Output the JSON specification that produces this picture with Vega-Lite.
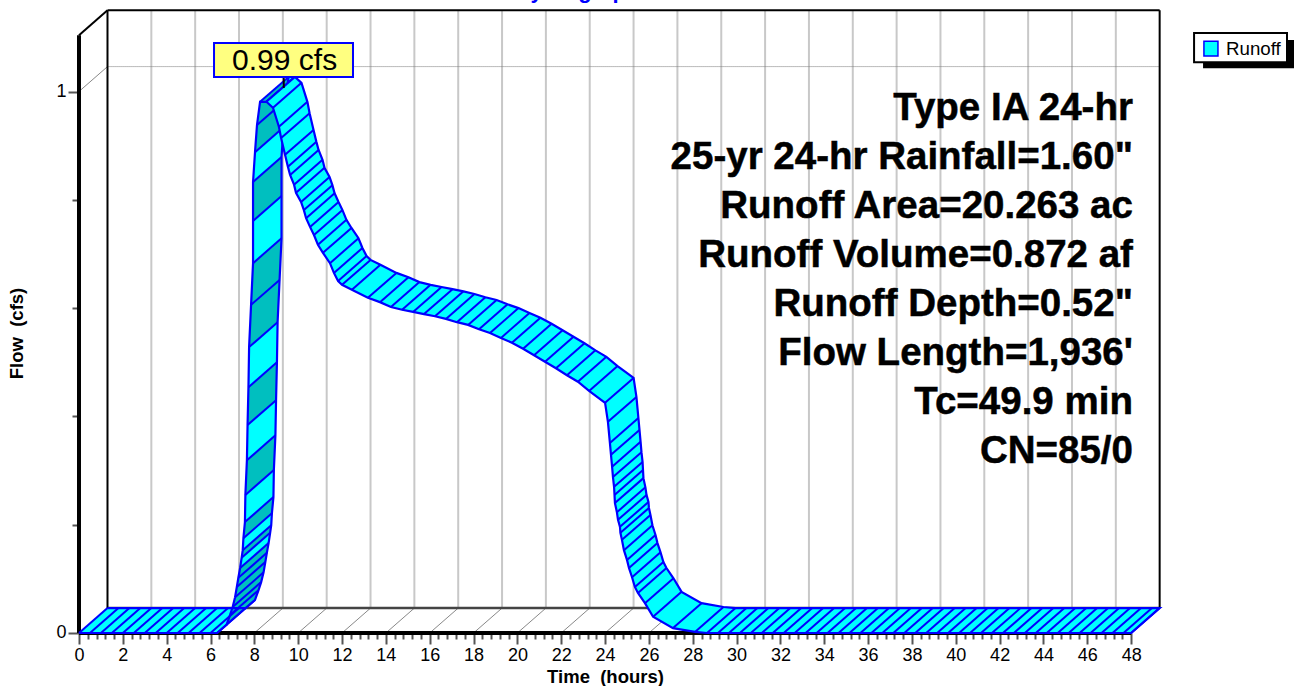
{"$schema":"https://vega.github.io/schema/vega-lite/v6.json","width":1294,"height":686,"autosize":"none","padding":0,"background":"white",
"config":{"view":{"stroke":null},"text":{"font":"Liberation Sans"},"axis":{"labelFont":"Liberation Sans","titleFont":"Liberation Sans"}},
"datasets":{
"backGrid":[{"hour":3.3,"flow":0.046,"hourEnd":3.3,"flowEnd":1.15},{"hour":5.3,"flow":0.046,"hourEnd":5.3,"flowEnd":1.15},{"hour":7.3,"flow":0.046,"hourEnd":7.3,"flowEnd":1.15},{"hour":9.3,"flow":0.046,"hourEnd":9.3,"flowEnd":1.15},{"hour":11.3,"flow":0.046,"hourEnd":11.3,"flowEnd":1.15},{"hour":13.3,"flow":0.046,"hourEnd":13.3,"flowEnd":1.15},{"hour":15.3,"flow":0.046,"hourEnd":15.3,"flowEnd":1.15},{"hour":17.3,"flow":0.046,"hourEnd":17.3,"flowEnd":1.15},{"hour":19.3,"flow":0.046,"hourEnd":19.3,"flowEnd":1.15},{"hour":21.3,"flow":0.046,"hourEnd":21.3,"flowEnd":1.15},{"hour":23.3,"flow":0.046,"hourEnd":23.3,"flowEnd":1.15},{"hour":25.3,"flow":0.046,"hourEnd":25.3,"flowEnd":1.15},{"hour":27.3,"flow":0.046,"hourEnd":27.3,"flowEnd":1.15},{"hour":29.3,"flow":0.046,"hourEnd":29.3,"flowEnd":1.15},{"hour":31.3,"flow":0.046,"hourEnd":31.3,"flowEnd":1.15},{"hour":33.3,"flow":0.046,"hourEnd":33.3,"flowEnd":1.15},{"hour":35.3,"flow":0.046,"hourEnd":35.3,"flowEnd":1.15},{"hour":37.3,"flow":0.046,"hourEnd":37.3,"flowEnd":1.15},{"hour":39.3,"flow":0.046,"hourEnd":39.3,"flowEnd":1.15},{"hour":41.3,"flow":0.046,"hourEnd":41.3,"flowEnd":1.15},{"hour":43.3,"flow":0.046,"hourEnd":43.3,"flowEnd":1.15},{"hour":45.3,"flow":0.046,"hourEnd":45.3,"flowEnd":1.15},{"hour":47.3,"flow":0.046,"hourEnd":47.3,"flowEnd":1.15}],
"depthLines":[{"hour":0,"flow":1,"hourEnd":1.3,"flowEnd":1.046},{"hour":2,"flow":0,"hourEnd":3.3,"flowEnd":0.046},{"hour":4,"flow":0,"hourEnd":5.3,"flowEnd":0.046},{"hour":6,"flow":0,"hourEnd":7.3,"flowEnd":0.046},{"hour":8,"flow":0,"hourEnd":9.3,"flowEnd":0.046},{"hour":10,"flow":0,"hourEnd":11.3,"flowEnd":0.046},{"hour":12,"flow":0,"hourEnd":13.3,"flowEnd":0.046},{"hour":14,"flow":0,"hourEnd":15.3,"flowEnd":0.046},{"hour":16,"flow":0,"hourEnd":17.3,"flowEnd":0.046},{"hour":18,"flow":0,"hourEnd":19.3,"flowEnd":0.046},{"hour":20,"flow":0,"hourEnd":21.3,"flowEnd":0.046},{"hour":22,"flow":0,"hourEnd":23.3,"flowEnd":0.046},{"hour":24,"flow":0,"hourEnd":25.3,"flowEnd":0.046},{"hour":26,"flow":0,"hourEnd":27.3,"flowEnd":0.046}],
"backOne":[{"hour":1.3,"flow":1.046,"hourEnd":49.3,"flowEnd":1.046}],
"floorBack":[{"hour":1.3,"flow":0.046,"hourEnd":49.3,"flowEnd":0.046}],
"frameThin":[{"hour":0,"flow":1.104,"hourEnd":1.3,"flowEnd":1.15},{"hour":1.3,"flow":0.046,"hourEnd":1.3,"flowEnd":1.15},{"hour":1.3,"flow":1.15,"hourEnd":49.3,"flowEnd":1.15},{"hour":49.3,"flow":0.046,"hourEnd":49.3,"flowEnd":1.15}],
"frameThick":[{"hour":0,"flow":0,"hourEnd":0,"flowEnd":1.104},{"hour":0,"flow":0,"hourEnd":48,"flowEnd":0}],
"rise":[{"station":1,"seq":1,"hour":0,"flow":0},{"station":2,"seq":2,"hour":0.5,"flow":0},{"station":3,"seq":3,"hour":1,"flow":0},{"station":4,"seq":4,"hour":1.5,"flow":0},{"station":5,"seq":5,"hour":2,"flow":0},{"station":6,"seq":6,"hour":2.5,"flow":0},{"station":7,"seq":7,"hour":3,"flow":0},{"station":8,"seq":8,"hour":3.5,"flow":0},{"station":9,"seq":9,"hour":4,"flow":0},{"station":10,"seq":10,"hour":4.5,"flow":0},{"station":11,"seq":11,"hour":5,"flow":0},{"station":12,"seq":12,"hour":5.5,"flow":0},{"station":13,"seq":13,"hour":6,"flow":0},{"station":14,"seq":14,"hour":6.3,"flow":0},{"station":15,"seq":15,"hour":6.73,"flow":0.015},{"station":16,"seq":16,"hour":6.89,"flow":0.033},{"station":17,"seq":17,"hour":7.01,"flow":0.048},{"station":18,"seq":18,"hour":7.12,"flow":0.066},{"station":19,"seq":19,"hour":7.2,"flow":0.085},{"station":20,"seq":20,"hour":7.27,"flow":0.102},{"station":21,"seq":21,"hour":7.35,"flow":0.12},{"station":22,"seq":22,"hour":7.42,"flow":0.139},{"station":23,"seq":23,"hour":7.47,"flow":0.153},{"station":24,"seq":24,"hour":7.5,"flow":0.175},{"station":25,"seq":25,"hour":7.57,"flow":0.205},{"station":26,"seq":26,"hour":7.59,"flow":0.255},{"station":27,"seq":27,"hour":7.66,"flow":0.319},{"station":28,"seq":28,"hour":7.69,"flow":0.384},{"station":29,"seq":29,"hour":7.73,"flow":0.454},{"station":30,"seq":30,"hour":7.76,"flow":0.528},{"station":31,"seq":31,"hour":7.85,"flow":0.606},{"station":32,"seq":32,"hour":7.94,"flow":0.683},{"station":33,"seq":33,"hour":7.94,"flow":0.761},{"station":34,"seq":34,"hour":7.94,"flow":0.833},{"station":35,"seq":35,"hour":8.03,"flow":0.888},{"station":36,"seq":36,"hour":8.12,"flow":0.938},{"station":37,"seq":37,"hour":8.26,"flow":0.981},{"station":38,"seq":38,"hour":8.55,"flow":0.981},
{"station":38,"seq":962,"hour":9.85,"flow":1.027},{"station":37,"seq":963,"hour":9.56,"flow":1.027},{"station":36,"seq":964,"hour":9.42,"flow":0.984},{"station":35,"seq":965,"hour":9.33,"flow":0.934},{"station":34,"seq":966,"hour":9.24,"flow":0.879},{"station":33,"seq":967,"hour":9.24,"flow":0.807},{"station":32,"seq":968,"hour":9.24,"flow":0.729},{"station":31,"seq":969,"hour":9.15,"flow":0.652},{"station":30,"seq":970,"hour":9.06,"flow":0.574},{"station":29,"seq":971,"hour":9.03,"flow":0.5},{"station":28,"seq":972,"hour":8.99,"flow":0.43},{"station":27,"seq":973,"hour":8.96,"flow":0.365},{"station":26,"seq":974,"hour":8.89,"flow":0.301},{"station":25,"seq":975,"hour":8.87,"flow":0.251},{"station":24,"seq":976,"hour":8.8,"flow":0.221},{"station":23,"seq":977,"hour":8.77,"flow":0.199},{"station":22,"seq":978,"hour":8.72,"flow":0.185},{"station":21,"seq":979,"hour":8.65,"flow":0.166},{"station":20,"seq":980,"hour":8.57,"flow":0.148},{"station":19,"seq":981,"hour":8.5,"flow":0.131},{"station":18,"seq":982,"hour":8.42,"flow":0.112},{"station":17,"seq":983,"hour":8.31,"flow":0.094},{"station":16,"seq":984,"hour":8.19,"flow":0.079},{"station":15,"seq":985,"hour":8.03,"flow":0.061},{"station":14,"seq":986,"hour":7.6,"flow":0.046},{"station":13,"seq":987,"hour":7.3,"flow":0.046},{"station":12,"seq":988,"hour":6.8,"flow":0.046},{"station":11,"seq":989,"hour":6.3,"flow":0.046},{"station":10,"seq":990,"hour":5.8,"flow":0.046},{"station":9,"seq":991,"hour":5.3,"flow":0.046},{"station":8,"seq":992,"hour":4.8,"flow":0.046},{"station":7,"seq":993,"hour":4.3,"flow":0.046},{"station":6,"seq":994,"hour":3.8,"flow":0.046},{"station":5,"seq":995,"hour":3.3,"flow":0.046},{"station":4,"seq":996,"hour":2.8,"flow":0.046},{"station":3,"seq":997,"hour":2.3,"flow":0.046},{"station":2,"seq":998,"hour":1.8,"flow":0.046},{"station":1,"seq":999,"hour":1.3,"flow":0.046}],
"shaded":[
{"quad":"A","seq":1,"hour":8.03,"flow":0.888},{"quad":"A","seq":2,"hour":8.12,"flow":0.938},{"quad":"A","seq":3,"hour":8.26,"flow":0.981},{"quad":"A","seq":4,"hour":9.56,"flow":1.027},{"quad":"A","seq":5,"hour":9.42,"flow":0.984},{"quad":"A","seq":6,"hour":9.33,"flow":0.934},
{"quad":"B","seq":1,"hour":7.94,"flow":0.761},{"quad":"B","seq":2,"hour":7.94,"flow":0.833},{"quad":"B","seq":3,"hour":9.24,"flow":0.879},{"quad":"B","seq":4,"hour":9.24,"flow":0.807},
{"quad":"C","seq":1,"hour":7.76,"flow":0.528},{"quad":"C","seq":2,"hour":7.85,"flow":0.606},{"quad":"C","seq":3,"hour":7.94,"flow":0.683},{"quad":"C","seq":4,"hour":9.24,"flow":0.729},{"quad":"C","seq":5,"hour":9.15,"flow":0.652},{"quad":"C","seq":6,"hour":9.06,"flow":0.574},
{"quad":"D","seq":1,"hour":7.69,"flow":0.384},{"quad":"D","seq":2,"hour":7.73,"flow":0.454},{"quad":"D","seq":3,"hour":9.03,"flow":0.5},{"quad":"D","seq":4,"hour":8.99,"flow":0.43},
{"quad":"E","seq":1,"hour":7.59,"flow":0.255},{"quad":"E","seq":2,"hour":7.66,"flow":0.319},{"quad":"E","seq":3,"hour":8.96,"flow":0.365},{"quad":"E","seq":4,"hour":8.89,"flow":0.301},
{"quad":"F","seq":1,"hour":7.5,"flow":0.175},{"quad":"F","seq":2,"hour":7.57,"flow":0.205},{"quad":"F","seq":3,"hour":8.87,"flow":0.251},{"quad":"F","seq":4,"hour":8.8,"flow":0.221},
{"quad":"G","seq":1,"hour":7.42,"flow":0.139},{"quad":"G","seq":2,"hour":7.47,"flow":0.153},{"quad":"G","seq":3,"hour":8.77,"flow":0.199},{"quad":"G","seq":4,"hour":8.72,"flow":0.185},
{"quad":"H","seq":1,"hour":6.3,"flow":0},{"quad":"H","seq":2,"hour":6.73,"flow":0.015},{"quad":"H","seq":3,"hour":6.89,"flow":0.033},{"quad":"H","seq":4,"hour":7.01,"flow":0.048},{"quad":"H","seq":5,"hour":7.12,"flow":0.066},{"quad":"H","seq":6,"hour":7.2,"flow":0.085},{"quad":"H","seq":7,"hour":7.27,"flow":0.102},{"quad":"H","seq":8,"hour":7.35,"flow":0.12},{"quad":"H","seq":9,"hour":8.65,"flow":0.166},{"quad":"H","seq":10,"hour":8.57,"flow":0.148},{"quad":"H","seq":11,"hour":8.5,"flow":0.131},{"quad":"H","seq":12,"hour":8.42,"flow":0.112},{"quad":"H","seq":13,"hour":8.31,"flow":0.094},{"quad":"H","seq":14,"hour":8.19,"flow":0.079},{"quad":"H","seq":15,"hour":8.03,"flow":0.061},{"quad":"H","seq":16,"hour":7.6,"flow":0.046}],
"fall":[{"station":1,"seq":1,"hour":8.55,"flow":0.981},{"station":2,"seq":2,"hour":8.85,"flow":0.97},{"station":3,"seq":3,"hour":9.12,"flow":0.935},{"station":4,"seq":4,"hour":9.22,"flow":0.914},{"station":5,"seq":5,"hour":9.4,"flow":0.883},{"station":6,"seq":6,"hour":9.53,"flow":0.861},{"station":7,"seq":7,"hour":9.63,"flow":0.846},{"station":8,"seq":8,"hour":9.81,"flow":0.828},{"station":9,"seq":9,"hour":9.9,"flow":0.813},{"station":10,"seq":10,"hour":10.13,"flow":0.796},{"station":11,"seq":11,"hour":10.26,"flow":0.781},{"station":12,"seq":12,"hour":10.36,"flow":0.766},{"station":13,"seq":13,"hour":10.54,"flow":0.75},{"station":14,"seq":14,"hour":10.72,"flow":0.735},{"station":15,"seq":15,"hour":10.9,"flow":0.717},{"station":16,"seq":16,"hour":11.13,"flow":0.702},{"station":17,"seq":17,"hour":11.45,"flow":0.683},{"station":18,"seq":18,"hour":11.63,"flow":0.665},{"station":19,"seq":19,"hour":11.82,"flow":0.65},{"station":20,"seq":20,"hour":12,"flow":0.643},{"station":21,"seq":21,"hour":12.45,"flow":0.634},{"station":22,"seq":22,"hour":13.18,"flow":0.619},{"station":23,"seq":23,"hour":13.73,"flow":0.611},{"station":24,"seq":24,"hour":14.23,"flow":0.602},{"station":25,"seq":25,"hour":14.74,"flow":0.597},{"station":26,"seq":26,"hour":15.24,"flow":0.593},{"station":27,"seq":27,"hour":15.74,"flow":0.589},{"station":28,"seq":28,"hour":16.24,"flow":0.585},{"station":29,"seq":29,"hour":16.74,"flow":0.58},{"station":30,"seq":30,"hour":17.24,"flow":0.574},{"station":31,"seq":31,"hour":17.75,"flow":0.569},{"station":32,"seq":32,"hour":18.25,"flow":0.561},{"station":33,"seq":33,"hour":18.75,"flow":0.554},{"station":34,"seq":34,"hour":19.25,"flow":0.545},{"station":35,"seq":35,"hour":19.75,"flow":0.536},{"station":36,"seq":36,"hour":20.26,"flow":0.525},{"station":37,"seq":37,"hour":20.76,"flow":0.513},{"station":38,"seq":38,"hour":21.26,"flow":0.501},{"station":39,"seq":39,"hour":21.76,"flow":0.489},{"station":40,"seq":40,"hour":22.26,"flow":0.476},{"station":41,"seq":41,"hour":22.76,"flow":0.464},{"station":42,"seq":42,"hour":23.27,"flow":0.447},
{"station":43,"seq":43,"hour":24,"flow":0.425},{"station":43.8,"seq":43.8,"hour":24.13,"flow":0.39},{"station":44.6,"seq":44.6,"hour":24.22,"flow":0.351},{"station":45.4,"seq":45.4,"hour":24.27,"flow":0.329},{"station":46.2,"seq":46.2,"hour":24.32,"flow":0.307},{"station":47,"seq":47,"hour":24.36,"flow":0.288},{"station":47.8,"seq":47.8,"hour":24.41,"flow":0.27},{"station":48.6,"seq":48.6,"hour":24.43,"flow":0.255},{"station":49.4,"seq":49.4,"hour":24.45,"flow":0.24},{"station":50.2,"seq":50.2,"hour":24.54,"flow":0.223},{"station":51,"seq":51,"hour":24.59,"flow":0.209},{"station":51.8,"seq":51.8,"hour":24.68,"flow":0.196},{"station":52.6,"seq":52.6,"hour":24.7,"flow":0.185},{"station":53.4,"seq":53.4,"hour":24.77,"flow":0.172},{"station":54.2,"seq":54.2,"hour":24.86,"flow":0.153},{"station":55,"seq":55,"hour":25,"flow":0.135},{"station":55.8,"seq":55.8,"hour":25.09,"flow":0.12},{"station":56.6,"seq":56.6,"hour":25.23,"flow":0.103},{"station":57.4,"seq":57.4,"hour":25.36,"flow":0.085},{"station":58.2,"seq":58.2,"hour":25.5,"flow":0.074},{"station":59,"seq":59,"hour":25.82,"flow":0.055},{"station":59.8,"seq":59.8,"hour":26.19,"flow":0.03},{"station":60.6,"seq":60.6,"hour":27.1,"flow":0.009},{"station":61.4,"seq":61.4,"hour":28.1,"flow":0.002},{"station":62.2,"seq":62.2,"hour":28.65,"flow":0},
{"station":63,"seq":63,"hour":29.15,"flow":0},{"station":64,"seq":64,"hour":29.65,"flow":0},{"station":65,"seq":65,"hour":30.15,"flow":0},{"station":66,"seq":66,"hour":30.65,"flow":0},{"station":67,"seq":67,"hour":31.15,"flow":0},{"station":68,"seq":68,"hour":31.65,"flow":0},{"station":69,"seq":69,"hour":32.15,"flow":0},{"station":70,"seq":70,"hour":32.65,"flow":0},{"station":71,"seq":71,"hour":33.15,"flow":0},{"station":72,"seq":72,"hour":33.65,"flow":0},{"station":73,"seq":73,"hour":34.15,"flow":0},{"station":74,"seq":74,"hour":34.65,"flow":0},{"station":75,"seq":75,"hour":35.15,"flow":0},{"station":76,"seq":76,"hour":35.65,"flow":0},{"station":77,"seq":77,"hour":36.15,"flow":0},{"station":78,"seq":78,"hour":36.65,"flow":0},{"station":79,"seq":79,"hour":37.15,"flow":0},{"station":80,"seq":80,"hour":37.65,"flow":0},{"station":81,"seq":81,"hour":38.15,"flow":0},{"station":82,"seq":82,"hour":38.65,"flow":0},{"station":83,"seq":83,"hour":39.15,"flow":0},{"station":84,"seq":84,"hour":39.65,"flow":0},{"station":85,"seq":85,"hour":40.15,"flow":0},{"station":86,"seq":86,"hour":40.65,"flow":0},{"station":87,"seq":87,"hour":41.15,"flow":0},{"station":88,"seq":88,"hour":41.65,"flow":0},{"station":89,"seq":89,"hour":42.15,"flow":0},{"station":90,"seq":90,"hour":42.65,"flow":0},{"station":91,"seq":91,"hour":43.15,"flow":0},{"station":92,"seq":92,"hour":43.65,"flow":0},{"station":93,"seq":93,"hour":44.15,"flow":0},{"station":94,"seq":94,"hour":44.65,"flow":0},{"station":95,"seq":95,"hour":45.15,"flow":0},{"station":96,"seq":96,"hour":45.65,"flow":0},{"station":97,"seq":97,"hour":46.15,"flow":0},{"station":98,"seq":98,"hour":46.65,"flow":0},{"station":99,"seq":99,"hour":47.15,"flow":0},{"station":100,"seq":100,"hour":47.65,"flow":0},{"station":101,"seq":101,"hour":48,"flow":0},
{"station":101,"seq":899,"hour":49.3,"flow":0.046},{"station":100,"seq":900,"hour":48.95,"flow":0.046},{"station":99,"seq":901,"hour":48.45,"flow":0.046},{"station":98,"seq":902,"hour":47.95,"flow":0.046},{"station":97,"seq":903,"hour":47.45,"flow":0.046},{"station":96,"seq":904,"hour":46.95,"flow":0.046},{"station":95,"seq":905,"hour":46.45,"flow":0.046},{"station":94,"seq":906,"hour":45.95,"flow":0.046},{"station":93,"seq":907,"hour":45.45,"flow":0.046},{"station":92,"seq":908,"hour":44.95,"flow":0.046},{"station":91,"seq":909,"hour":44.45,"flow":0.046},{"station":90,"seq":910,"hour":43.95,"flow":0.046},{"station":89,"seq":911,"hour":43.45,"flow":0.046},{"station":88,"seq":912,"hour":42.95,"flow":0.046},{"station":87,"seq":913,"hour":42.45,"flow":0.046},{"station":86,"seq":914,"hour":41.95,"flow":0.046},{"station":85,"seq":915,"hour":41.45,"flow":0.046},{"station":84,"seq":916,"hour":40.95,"flow":0.046},{"station":83,"seq":917,"hour":40.45,"flow":0.046},{"station":82,"seq":918,"hour":39.95,"flow":0.046},{"station":81,"seq":919,"hour":39.45,"flow":0.046},{"station":80,"seq":920,"hour":38.95,"flow":0.046},{"station":79,"seq":921,"hour":38.45,"flow":0.046},{"station":78,"seq":922,"hour":37.95,"flow":0.046},{"station":77,"seq":923,"hour":37.45,"flow":0.046},{"station":76,"seq":924,"hour":36.95,"flow":0.046},{"station":75,"seq":925,"hour":36.45,"flow":0.046},{"station":74,"seq":926,"hour":35.95,"flow":0.046},{"station":73,"seq":927,"hour":35.45,"flow":0.046},{"station":72,"seq":928,"hour":34.95,"flow":0.046},{"station":71,"seq":929,"hour":34.45,"flow":0.046},{"station":70,"seq":930,"hour":33.95,"flow":0.046},{"station":69,"seq":931,"hour":33.45,"flow":0.046},{"station":68,"seq":932,"hour":32.95,"flow":0.046},{"station":67,"seq":933,"hour":32.45,"flow":0.046},{"station":66,"seq":934,"hour":31.95,"flow":0.046},{"station":65,"seq":935,"hour":31.45,"flow":0.046},{"station":64,"seq":936,"hour":30.95,"flow":0.046},{"station":63,"seq":937,"hour":30.45,"flow":0.046},
{"station":62.2,"seq":937.8,"hour":29.95,"flow":0.046},{"station":61.4,"seq":938.6,"hour":29.4,"flow":0.048},{"station":60.6,"seq":939.4,"hour":28.4,"flow":0.055},{"station":59.8,"seq":940.2,"hour":27.49,"flow":0.076},{"station":59,"seq":941,"hour":27.12,"flow":0.101},{"station":58.2,"seq":941.8,"hour":26.8,"flow":0.12},{"station":57.4,"seq":942.6,"hour":26.66,"flow":0.131},{"station":56.6,"seq":943.4,"hour":26.53,"flow":0.149},{"station":55.8,"seq":944.2,"hour":26.39,"flow":0.166},{"station":55,"seq":945,"hour":26.3,"flow":0.181},{"station":54.2,"seq":945.8,"hour":26.16,"flow":0.199},{"station":53.4,"seq":946.6,"hour":26.07,"flow":0.218},{"station":52.6,"seq":947.4,"hour":26,"flow":0.231},{"station":51.8,"seq":948.2,"hour":25.98,"flow":0.242},{"station":51,"seq":949,"hour":25.89,"flow":0.255},{"station":50.2,"seq":949.8,"hour":25.84,"flow":0.269},{"station":49.4,"seq":950.6,"hour":25.75,"flow":0.286},{"station":48.6,"seq":951.4,"hour":25.73,"flow":0.301},{"station":47.8,"seq":952.2,"hour":25.71,"flow":0.316},{"station":47,"seq":953,"hour":25.66,"flow":0.334},{"station":46.2,"seq":953.8,"hour":25.62,"flow":0.353},{"station":45.4,"seq":954.6,"hour":25.57,"flow":0.375},{"station":44.6,"seq":955.4,"hour":25.52,"flow":0.397},{"station":43.8,"seq":956.2,"hour":25.43,"flow":0.436},{"station":43,"seq":957,"hour":25.3,"flow":0.471},
{"station":42,"seq":958,"hour":24.57,"flow":0.493},{"station":41,"seq":959,"hour":24.06,"flow":0.51},{"station":40,"seq":960,"hour":23.56,"flow":0.522},{"station":39,"seq":961,"hour":23.06,"flow":0.535},{"station":38,"seq":962,"hour":22.56,"flow":0.547},{"station":37,"seq":963,"hour":22.06,"flow":0.559},{"station":36,"seq":964,"hour":21.56,"flow":0.571},{"station":35,"seq":965,"hour":21.05,"flow":0.582},{"station":34,"seq":966,"hour":20.55,"flow":0.591},{"station":33,"seq":967,"hour":20.05,"flow":0.6},{"station":32,"seq":968,"hour":19.55,"flow":0.607},{"station":31,"seq":969,"hour":19.05,"flow":0.615},{"station":30,"seq":970,"hour":18.54,"flow":0.62},{"station":29,"seq":971,"hour":18.04,"flow":0.626},{"station":28,"seq":972,"hour":17.54,"flow":0.631},{"station":27,"seq":973,"hour":17.04,"flow":0.635},{"station":26,"seq":974,"hour":16.54,"flow":0.639},{"station":25,"seq":975,"hour":16.04,"flow":0.643},{"station":24,"seq":976,"hour":15.53,"flow":0.648},{"station":23,"seq":977,"hour":15.03,"flow":0.657},{"station":22,"seq":978,"hour":14.48,"flow":0.665},{"station":21,"seq":979,"hour":13.75,"flow":0.68},{"station":20,"seq":980,"hour":13.3,"flow":0.689},{"station":19,"seq":981,"hour":13.12,"flow":0.696},{"station":18,"seq":982,"hour":12.93,"flow":0.711},{"station":17,"seq":983,"hour":12.75,"flow":0.729},{"station":16,"seq":984,"hour":12.43,"flow":0.748},{"station":15,"seq":985,"hour":12.2,"flow":0.763},{"station":14,"seq":986,"hour":12.02,"flow":0.781},{"station":13,"seq":987,"hour":11.84,"flow":0.796},{"station":12,"seq":988,"hour":11.66,"flow":0.812},{"station":11,"seq":989,"hour":11.56,"flow":0.827},{"station":10,"seq":990,"hour":11.43,"flow":0.842},{"station":9,"seq":991,"hour":11.2,"flow":0.859},{"station":8,"seq":992,"hour":11.11,"flow":0.874},{"station":7,"seq":993,"hour":10.93,"flow":0.892},{"station":6,"seq":994,"hour":10.83,"flow":0.907},{"station":5,"seq":995,"hour":10.7,"flow":0.929},{"station":4,"seq":996,"hour":10.52,"flow":0.96},{"station":3,"seq":997,"hour":10.42,"flow":0.981},{"station":2,"seq":998,"hour":10.15,"flow":1.016},{"station":1,"seq":999,"hour":9.85,"flow":1.027}],
"peakTick":[{"hour":9.34,"flow":1.0268,"hourEnd":9.34,"flowEnd":1.0065}],
"peakBox":[{"hour":6.16,"flow":1.0896,"hourEnd":12.5,"flowEnd":1.0268}],
"peakText":[{"hour":9.38,"flow":1.0397,"label":"0.99 cfs"}],
"legendShadow":[{"hour":51.28,"flow":1.095,"hourEnd":55.47,"flowEnd":1.043}],
"legendBox":[{"hour":50.87,"flow":1.108,"hourEnd":55.11,"flowEnd":1.054}],
"legendSwatch":[{"hour":51.32,"flow":1.093,"hourEnd":51.96,"flowEnd":1.0655}],
"legendText":[{"hour":52.33,"flow":1.067,"label":"Runoff"}],
"notes":[{"hour":48.08,"flow":0.947,"label":"Type IA 24-hr"},{"hour":48.08,"flow":0.857,"label":"25-yr 24-hr Rainfall=1.60\""},{"hour":48.08,"flow":0.766,"label":"Runoff Area=20.263 ac"},{"hour":48.08,"flow":0.676,"label":"Runoff Volume=0.872 af"},{"hour":48.08,"flow":0.585,"label":"Runoff Depth=0.52\""},{"hour":48.08,"flow":0.495,"label":"Flow Length=1,936'"},{"hour":48.08,"flow":0.404,"label":"Tc=49.9 min"},{"hour":48.08,"flow":0.314,"label":"CN=85/0"}],
"heading":[{"hour":22.72,"flow":1.172,"label":"Hydrograph"}]
},
"encoding":{"x":{"field":"hour","type":"quantitative","scale":{"domain":[-3.604,55.429],"nice":false,"zero":false},"axis":null},"y":{"field":"flow","type":"quantitative","scale":{"domain":[-0.0979,1.169],"nice":false,"zero":false},"axis":null}},
"resolve":{"axis":{"x":"independent","y":"independent"}},
"layer":[
{"data":{"name":"backGrid"},"mark":{"type":"rule","stroke":"#C8C8C8","strokeWidth":2},
 "encoding":{"x":{"field":"hour","type":"quantitative","scale":{"domain":[-3.604,55.429],"nice":false,"zero":false},
   "axis":{"orient":"bottom","offset":-53,"values":[0,2,4,6,8,10,12,14,16,18,20,22,24,26,28,30,32,34,36,38,40,42,44,46,48],"domain":false,"grid":false,"tickColor":"#555555","tickWidth":2,"tickSize":11,"labelColor":"#000000","labelFontSize":18,"labelPadding":2,"labelFlush":false,"labelOverlap":false,"title":"Time\u00a0 (hours)","titleFontSize":18.5,"titleFontWeight":"bold","titleColor":"#000000","titleX":605,"titleY":49,"titleAlign":"center","titleBaseline":"alphabetic"}},
  "y":{"field":"flow","type":"quantitative","scale":{"domain":[-0.0979,1.169],"nice":false,"zero":false},
   "axis":{"orient":"left","offset":-79,"values":[0,1],"domain":false,"grid":false,"tickColor":"#555555","tickWidth":2,"tickSize":11,"labelColor":"#000000","labelFontSize":18,"labelPadding":2,"labelOverlap":false,"format":"d","title":"Flow\u00a0 (cfs)","titleFontSize":18.5,"titleFontWeight":"bold","titleColor":"#000000","titleX":-53,"titleY":333,"titleAlign":"center","titleAngle":-90}},
  "x2":{"field":"hourEnd"},"y2":{"field":"flowEnd"}}},
{"data":{"name":"depthLines"},"mark":{"type":"rule","stroke":"#888888","strokeWidth":1},
 "encoding":{"x":{"field":"hour","type":"quantitative","scale":{"domain":[-3.604,55.429],"nice":false,"zero":false},
   "axis":{"orient":"bottom","offset":-53,"values":[0.4,0.8,1.2,1.6,2.4,2.8,3.2,3.6,4.4,4.8,5.2,5.6,6.4,6.8,7.2,7.6,8.4,8.8,9.2,9.6,10.4,10.8,11.2,11.6,12.4,12.8,13.2,13.6,14.4,14.8,15.2,15.6,16.4,16.8,17.2,17.6,18.4,18.8,19.2,19.6,20.4,20.8,21.2,21.6,22.4,22.8,23.2,23.6,24.4,24.8,25.2,25.6,26.4,26.8,27.2,27.6,28.4,28.8,29.2,29.6,30.4,30.8,31.2,31.6,32.4,32.8,33.2,33.6,34.4,34.8,35.2,35.6,36.4,36.8,37.2,37.6,38.4,38.8,39.2,39.6,40.4,40.8,41.2,41.6,42.4,42.8,43.2,43.6,44.4,44.8,45.2,45.6,46.4,46.8,47.2,47.6],"domain":false,"grid":false,"labels":false,"title":null,"tickColor":"#555555","tickWidth":2,"tickSize":6}},
  "y":{"field":"flow","type":"quantitative","scale":{"domain":[-0.0979,1.169],"nice":false,"zero":false},
   "axis":{"orient":"left","offset":-77,"values":[0.2,0.4,0.6,0.8],"domain":false,"grid":false,"labels":false,"title":null,"tickColor":"#555555","tickWidth":2,"tickSize":5}},
  "x2":{"field":"hourEnd"},"y2":{"field":"flowEnd"}}},
{"data":{"name":"backOne"},"mark":{"type":"rule","stroke":"#777777","strokeWidth":1,"strokeDash":[1,1]},"encoding":{"x2":{"field":"hourEnd"},"y2":{"field":"flowEnd"}}},
{"data":{"name":"floorBack"},"mark":{"type":"rule","stroke":"#444444","strokeWidth":2.5},"encoding":{"x2":{"field":"hourEnd"},"y2":{"field":"flowEnd"}}},
{"data":{"name":"frameThin"},"mark":{"type":"rule","stroke":"#000000","strokeWidth":2},"encoding":{"x2":{"field":"hourEnd"},"y2":{"field":"flowEnd"}}},
{"data":{"name":"frameThick"},"mark":{"type":"rule","stroke":"#000000","strokeWidth":4},"encoding":{"x2":{"field":"hourEnd"},"y2":{"field":"flowEnd"}}},
{"data":{"name":"rise"},"mark":{"type":"line","fill":"#00FFFF","strokeWidth":0},"encoding":{"order":{"field":"seq","type":"quantitative"}}},
{"data":{"name":"shaded"},"mark":{"type":"line","fill":"#00BFBF","strokeWidth":0},"encoding":{"detail":{"field":"quad"},"order":{"field":"seq","type":"quantitative"}}},
{"data":{"name":"rise"},"mark":{"type":"line","stroke":"#0000FF","strokeWidth":2},"encoding":{"detail":{"field":"station"},"order":{"field":"seq","type":"quantitative"}}},
{"data":{"name":"rise"},"mark":{"type":"line","stroke":"#0000FF","strokeWidth":2.2},"encoding":{"order":{"field":"seq","type":"quantitative"}}},
{"data":{"name":"fall"},"mark":{"type":"line","fill":"#00FFFF","strokeWidth":0},"encoding":{"order":{"field":"seq","type":"quantitative"}}},
{"data":{"name":"fall"},"mark":{"type":"line","stroke":"#0000FF","strokeWidth":2},"encoding":{"detail":{"field":"station"},"order":{"field":"seq","type":"quantitative"}}},
{"data":{"name":"fall"},"mark":{"type":"line","stroke":"#0000FF","strokeWidth":2.2},"encoding":{"order":{"field":"seq","type":"quantitative"}}},
{"data":{"name":"peakTick"},"mark":{"type":"rule","stroke":"#000000","strokeWidth":2},"encoding":{"x2":{"field":"hourEnd"},"y2":{"field":"flowEnd"}}},
{"data":{"name":"peakBox"},"mark":{"type":"rect","fill":"#FFFF80","stroke":"#0000FF","strokeWidth":2},"encoding":{"x2":{"field":"hourEnd"},"y2":{"field":"flowEnd"}}},
{"data":{"name":"peakText"},"mark":{"type":"text","fontSize":30,"align":"center","baseline":"alphabetic","color":"#000000"},"encoding":{"text":{"field":"label"}}},
{"data":{"name":"legendShadow"},"mark":{"type":"rect","fill":"#000000"},"encoding":{"x2":{"field":"hourEnd"},"y2":{"field":"flowEnd"}}},
{"data":{"name":"legendBox"},"mark":{"type":"rect","fill":"#FFFFFF","stroke":"#000000","strokeWidth":2},"encoding":{"x2":{"field":"hourEnd"},"y2":{"field":"flowEnd"}}},
{"data":{"name":"legendSwatch"},"mark":{"type":"rect","fill":"#00FFFF","stroke":"#0000FF","strokeWidth":1.5},"encoding":{"x2":{"field":"hourEnd"},"y2":{"field":"flowEnd"}}},
{"data":{"name":"legendText"},"mark":{"type":"text","fontSize":18.7,"align":"left","baseline":"alphabetic","color":"#000000"},"encoding":{"text":{"field":"label"}}},
{"data":{"name":"notes"},"mark":{"type":"text","fontSize":38.5,"fontWeight":"bold","align":"right","baseline":"alphabetic","color":"#000000","stroke":"#000000","strokeWidth":0.5},"encoding":{"text":{"field":"label"}}},
{"data":{"name":"heading"},"mark":{"type":"text","fontSize":22,"fontWeight":"bold","align":"center","baseline":"alphabetic","color":"#0000FF"},"encoding":{"text":{"field":"label"}}}
]}
